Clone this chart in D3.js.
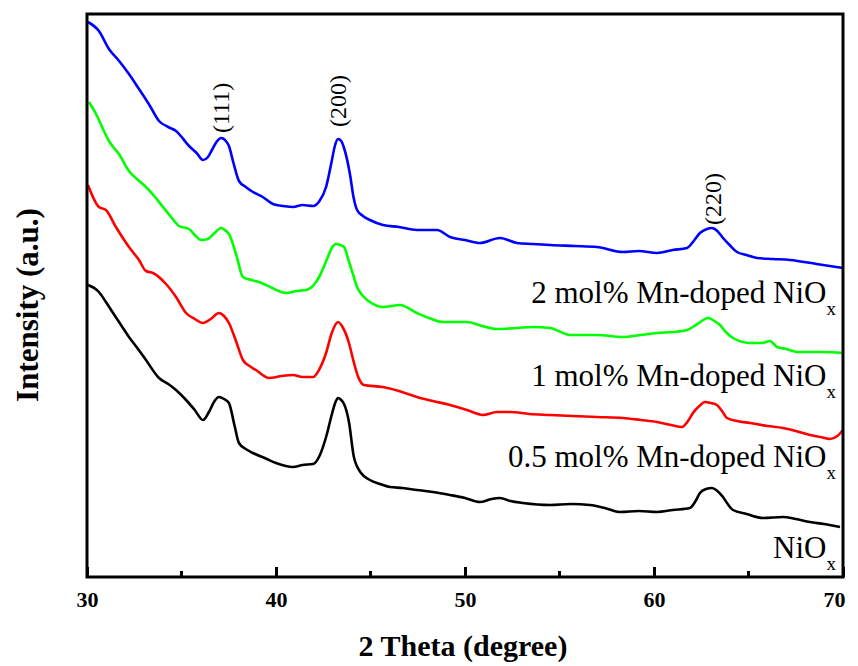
<!DOCTYPE html>
<html>
<head>
<meta charset="utf-8">
<script src="https://cdn.jsdelivr.net/npm/d3@7"></script>
<style>
  body { margin: 0; background: #fff; }
  svg text { font-family: "Liberation Serif", "Times New Roman", serif; }
</style>
</head>
<body>
<svg id="chart" width="858" height="666"></svg>
<script>
// XRD patterns, intensity in arbitrary units
var blue = [
  [30.05, 555], [30.63, 546], [31.16, 528], [31.7, 516], [32.22, 503], [32.75, 488],
  [33.3, 472], [33.81, 456], [34.3, 450], [34.71, 446], [35.4, 431], [35.8, 424],
  [36.14, 417], [36.4, 420], [36.61, 427], [36.85, 435], [37.09, 439], [37.3, 437],
  [37.51, 431], [37.75, 414], [38.04, 396], [38.4, 390], [38.78, 385], [39.3, 380],
  [39.84, 373], [40.4, 371], [40.9, 370], [41.4, 372], [41.96, 371], [42.3, 376],
  [42.65, 390], [42.96, 417], [43.1, 430], [43.28, 438], [43.45, 436], [43.6, 429],
  [43.92, 402], [44.1, 380], [44.29, 367], [44.6, 361], [44.97, 357], [45.66, 352],
  [46.5, 350], [47.46, 347], [48.52, 347], [49.21, 340], [50.0, 337], [50.79, 334],
  [51.85, 339], [52.75, 334], [53.6, 333], [54.5, 332], [55.8, 331], [56.98, 330],
  [58.36, 325], [59.2, 326], [60.16, 324], [61.0, 327], [61.75, 329], [62.1, 336],
  [62.43, 344], [62.8, 348], [63.07, 349], [63.35, 346], [63.65, 339], [64.0, 332],
  [64.39, 325], [64.9, 322], [65.45, 319], [66.3, 318], [67.2, 317], [68.6, 313],
  [70.0, 309]
];

var green = [
  [30.1, 475], [30.48, 463], [30.8, 450], [31.16, 436], [31.69, 423], [32.22, 406],
  [32.7, 397], [33.12, 390], [33.6, 380], [34.02, 370], [34.45, 360], [34.87, 351],
  [35.4, 348], [35.7, 342], [36.03, 337], [36.4, 338], [36.75, 344], [37.09, 349],
  [37.3, 347], [37.51, 343], [37.9, 322], [38.25, 300], [38.7, 297], [39.1, 295],
  [39.8, 289], [40.53, 284], [41.1, 286], [41.59, 287], [42.0, 292], [42.28, 300],
  [42.7, 318], [42.95, 329], [43.17, 333], [43.4, 332], [43.6, 330], [43.85, 316],
  [44.07, 303], [44.29, 290], [44.6, 281], [44.97, 275], [45.66, 270], [46.56, 272],
  [47.46, 264], [48.1, 259], [48.84, 255], [50.11, 255], [50.9, 251], [51.69, 248],
  [52.75, 249], [53.6, 250], [54.5, 249], [55.56, 242], [56.98, 242], [58.36, 240],
  [59.3, 242], [60.16, 244], [61.0, 245], [61.75, 247], [62.3, 253], [62.86, 259],
  [63.2, 256], [63.49, 252], [63.8, 245], [64.18, 239], [65.08, 234], [65.7, 234],
  [66.14, 236], [66.51, 230], [67.0, 228], [67.57, 225], [68.94, 225], [70.0, 224]
];

var red = [
  [30.05, 392], [30.63, 370], [31.0, 367], [31.53, 350], [32.22, 330], [32.75, 317],
  [33.12, 306], [33.49, 304], [34.18, 293], [34.71, 280], [35.24, 264], [35.7, 258],
  [36.14, 254], [36.55, 258], [36.98, 264], [37.25, 261], [37.51, 254], [37.9, 235],
  [38.25, 217], [38.6, 211], [38.94, 207], [39.63, 199], [40.3, 201], [40.9, 202],
  [41.4, 200], [41.96, 200], [42.3, 208], [42.65, 224], [42.95, 244], [43.28, 255],
  [43.55, 249], [43.86, 234], [44.1, 216], [44.35, 200], [44.65, 192], [45.66, 190],
  [46.5, 186], [47.46, 180], [48.3, 176], [49.21, 172], [50.1, 167], [50.95, 162],
  [51.7, 165], [52.38, 165], [53.4, 163], [54.5, 162], [55.7, 161], [56.98, 160],
  [58.36, 159], [59.3, 157], [60.16, 155], [60.9, 152], [61.48, 150], [61.8, 156],
  [62.06, 164], [62.4, 171], [62.7, 175], [63.0, 174], [63.33, 172], [63.6, 166],
  [63.86, 159], [64.4, 156], [65.08, 154], [66.0, 151], [66.83, 149], [67.5, 146],
  [68.25, 142], [68.8, 140], [69.31, 138], [69.7, 141], [70.0, 147]
];

var black = [
  [30.05, 292], [30.63, 285], [31.0, 275], [31.38, 264], [31.8, 252], [32.22, 240],
  [32.7, 228], [33.12, 217], [33.81, 199], [34.3, 193], [34.71, 187], [35.24, 177],
  [35.7, 167], [36.14, 157], [36.45, 165], [36.75, 176], [36.98, 180], [37.25, 178],
  [37.51, 174], [37.8, 152], [38.04, 134], [38.4, 128], [38.78, 124], [39.4, 119],
  [40.0, 114], [40.9, 110], [41.4, 112], [41.96, 113], [42.3, 121], [42.65, 140],
  [42.96, 163], [43.15, 175], [43.28, 179], [43.45, 177], [43.6, 173], [43.86, 155],
  [44.12, 120], [44.5, 104], [44.97, 97], [45.5, 93], [46.03, 90],
  [46.7, 89], [47.46, 87], [48.3, 85], [49.21, 82], [50.0, 79], [50.79, 75],
  [51.4, 78], [51.85, 79], [52.4, 76], [53.07, 74], [54.5, 72], [55.6, 73],
  [56.61, 72], [57.4, 69], [58.2, 65], [59.2, 66], [60.16, 65], [61.0, 67],
  [61.9, 69], [62.2, 76], [62.43, 84], [62.75, 88], [63.07, 89], [63.35, 86],
  [63.65, 80], [63.9, 73], [64.18, 67], [64.9, 63], [65.77, 59], [66.83, 60],
  [67.5, 58], [68.25, 55], [69.0, 53], [69.84, 50]
];

var series = [black, red, green, blue];
var seriesColors = ["#000000", "#ff0000", "#00ff00", "#0000ff"];
var seriesNames = ["NiO", "0.5 mol% Mn-doped NiO", "1 mol% Mn-doped NiO", "2 mol% Mn-doped NiO"];

var peakLabels = ["(111)", "(200)", "(220)"];
var peakAngles = [37.1, 43.3, 63.1];
var peakHeights = [444, 450, 352];

var majorTicks = [30, 40, 50, 60, 70];
var minorTicks = [35, 45, 55, 65];

var svg = d3.select("#chart");
var margin = { left: 87, top: 14, right: 15, bottom: 89 };
var width = 858 - margin.left - margin.right;
var height = 666 - margin.top - margin.bottom;

var x = d3.scaleLinear().domain([30, 70]).range([0, width]);
var y = d3.scaleLinear().domain([0, 563]).range([height, 0]);

var g = svg.append("g").attr("transform", "translate(" + margin.left + "," + margin.top + ")");

// curves
var line = d3.line()
  .x(function (d) { return x(d[0]); })
  .y(function (d) { return y(d[1]); })
  .curve(d3.curveMonotoneX);

series.forEach(function (s, i) {
  g.append("path")
    .datum(s)
    .attr("fill", "none")
    .attr("stroke", seriesColors[i])
    .attr("stroke-width", 2.6)
    .attr("stroke-linejoin", "round")
    .attr("d", line);
});

// x axis, ticks pointing in
var xAxis = g.append("g")
  .attr("transform", "translate(0," + height + ")")
  .call(d3.axisBottom(x).tickValues(majorTicks).tickSize(-10).tickPadding(14));

xAxis.select(".domain").remove();
xAxis.selectAll(".tick line").attr("stroke", "#000").attr("stroke-width", 3);
xAxis.selectAll(".tick text")
  .attr("fill", "#000")
  .style("font-size", "22px")
  .style("font-weight", "bold");
xAxis.selectAll(".tick text").filter(function (d) { return d === 70; }).attr("dx", "-9");

g.append("g")
  .attr("transform", "translate(0," + height + ")")
  .selectAll("line")
  .data(minorTicks)
  .enter()
  .append("line")
  .attr("x1", function (d) { return x(d); })
  .attr("x2", function (d) { return x(d); })
  .attr("y1", 0)
  .attr("y2", -6)
  .attr("stroke", "#000")
  .attr("stroke-width", 3);

// frame
g.append("rect")
  .attr("x", 0)
  .attr("y", 0)
  .attr("width", width)
  .attr("height", height)
  .attr("fill", "none")
  .attr("stroke", "#000")
  .attr("stroke-width", 3);

// peak indices
peakLabels.forEach(function (lab, i) {
  var px = x(peakAngles[i]);
  var py = y(peakHeights[i]);
  g.append("text")
    .attr("transform", "translate(" + px + "," + py + ") rotate(-90)")
    .attr("dy", "0.33em")
    .style("font-size", "24px")
    .text(lab);
});

// series names
var nameBaselines = [558, 467, 386, 303];
seriesNames.forEach(function (name, i) {
  var t = svg.append("text")
    .attr("x", 836)
    .attr("y", nameBaselines[i])
    .attr("text-anchor", "end")
    .style("font-size", "31px")
    .text(name);
  t.append("tspan")
    .attr("dy", 12)
    .style("font-size", "19px")
    .text("x");
});

// axis titles
svg.append("text")
  .attr("x", 463)
  .attr("y", 656)
  .attr("text-anchor", "middle")
  .style("font-size", "30px")
  .style("font-weight", "bold")
  .text("2 Theta (degree)");

svg.append("text")
  .attr("transform", "translate(38,305) rotate(-90)")
  .attr("text-anchor", "middle")
  .style("font-size", "31px")
  .style("font-weight", "bold")
  .text("Intensity (a.u.)");
</script>
</body>
</html>
